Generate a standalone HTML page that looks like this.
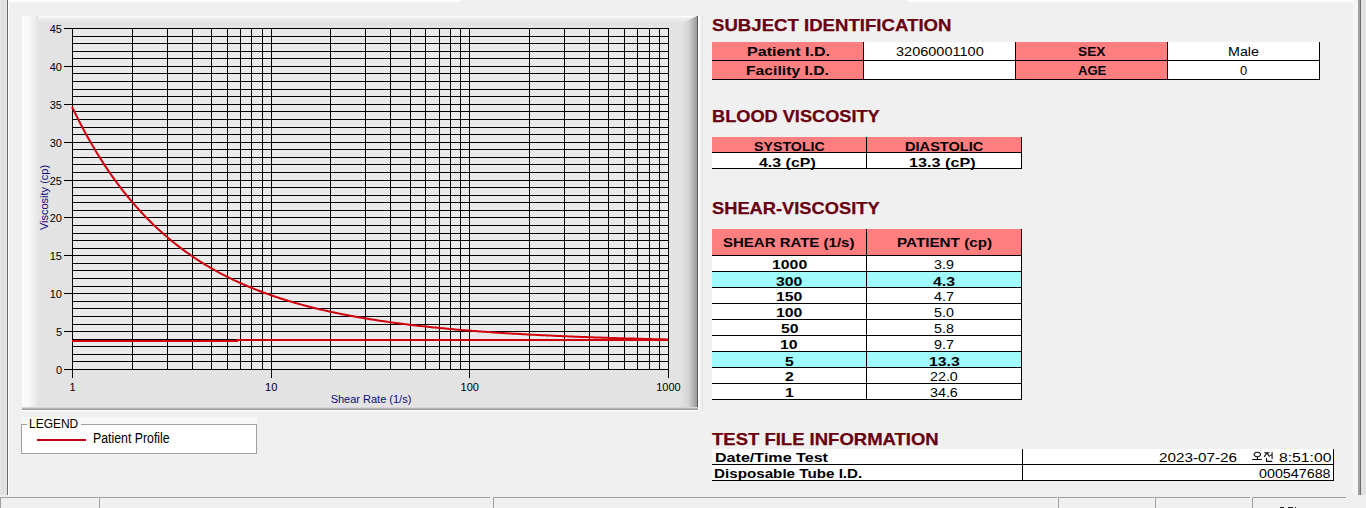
<!DOCTYPE html>
<html><head><meta charset="utf-8"><style>
html,body{margin:0;padding:0;width:1366px;height:508px;overflow:hidden;background:#f0f0f0;font-family:"Liberation Sans",sans-serif;position:relative}
.a{position:absolute;box-sizing:content-box}
.tx{white-space:nowrap;transform-origin:0 0}
.b{}
.h{-webkit-text-stroke:0.25px currentColor}
</style></head><body>
<div class="a" style="left:8px;top:0;width:452px;height:2px;background:#fff"></div>
<div class="a" style="left:908px;top:0;width:450px;height:2px;background:#fff"></div>
<div class="a" style="left:0;top:0;width:7px;height:495px;background:linear-gradient(90deg,#e3e3e3 0,#e6e6e6 1px,#dedede 2px,#dedede 4px,#e2e2e2 4px)"></div>
<div class="a" style="left:7px;top:0;width:1px;height:495px;background:#6a6a6a"></div>
<div class="a" style="left:8px;top:0;width:1px;height:495px;background:#fff"></div>
<div class="a" style="left:1353px;top:0;width:5px;height:495px;background:#f5f5f5"></div>
<div class="a" style="left:1358px;top:0;width:2px;height:495px;background:#a0a0a0"></div>
<div class="a" style="left:1360px;top:0;width:1px;height:495px;background:#6a6a6a"></div>
<div class="a" style="left:1361px;top:0;width:5px;height:495px;background:#e1e1e1"></div>
<div class="a" style="left:702px;top:16px;width:1px;height:395px;background:#e2e2e2"></div>
<div class="a" style="left:0px;top:497px;width:97px;height:11px;border-top:1px solid #a0a0a0;border-left:1px solid #a0a0a0;background:#f0f0f0"></div>
<div class="a" style="left:99px;top:497px;width:390px;height:11px;border-top:1px solid #a0a0a0;border-left:1px solid #a0a0a0;background:#f0f0f0"></div>
<div class="a" style="left:493px;top:497px;width:563px;height:11px;border-top:1px solid #a0a0a0;border-left:1px solid #a0a0a0;background:#f0f0f0"></div>
<div class="a" style="left:1058px;top:497px;width:95px;height:11px;border-top:1px solid #a0a0a0;border-left:1px solid #a0a0a0;background:#f0f0f0"></div>
<div class="a" style="left:1155px;top:497px;width:94px;height:11px;border-top:1px solid #a0a0a0;border-left:1px solid #a0a0a0;background:#f0f0f0"></div>
<div class="a" style="left:1252px;top:497px;width:93px;height:11px;border-top:1px solid #a0a0a0;border-left:1px solid #a0a0a0;background:#f0f0f0"></div>
<div class="a" style="left:1280px;top:507px;width:4px;height:1px;background:#222"></div>
<div class="a" style="left:1288px;top:507px;width:5px;height:1px;background:#222"></div>
<div class="a" style="left:1295px;top:507px;width:1px;height:1px;background:#222"></div>
<div class="a" style="left:21px;top:417px;width:236px;height:7px;background:#f7f7f7"></div>
<div class="a" style="left:21px;top:424px;width:234px;height:28px;border:1px solid #a0a0a0;background:#fff"></div>
<div class="a" style="left:27px;top:424px;width:54px;height:3px;background:#fff"></div>
<div class="a" style="left:37px;top:439px;width:49px;height:2px;background:#c00014"></div>
<svg class="a" style="left:0;top:0" width="1366" height="508"><rect x="22" y="16" width="676" height="394" fill="#e3e3e3"/><defs><linearGradient id="gl" x1="0" x2="1" y1="0" y2="0"><stop offset="0" stop-color="#fdfdfd"/><stop offset="0.4" stop-color="#f9f9f9"/><stop offset="1" stop-color="#e3e3e3"/></linearGradient><linearGradient id="gr" x1="0" x2="1" y1="0" y2="0"><stop offset="0" stop-color="#e3e3e3"/><stop offset="0.5" stop-color="#d4d4d4"/><stop offset="1" stop-color="#999999"/></linearGradient><linearGradient id="gt" x1="0" x2="0" y1="0" y2="1"><stop offset="0" stop-color="#ffffff"/><stop offset="0.3" stop-color="#eeeeee"/><stop offset="1" stop-color="#e3e3e3"/></linearGradient></defs><rect x="22" y="16" width="676" height="7" fill="url(#gt)"/><rect x="22" y="16" width="17" height="392" fill="url(#gl)"/><polygon points="680,24 697,16 697,408 680,408" fill="url(#gr)"/><rect x="697" y="16" width="1" height="394" fill="#5c5c5c"/><rect x="22" y="407" width="676" height="1" fill="#d6d6d6"/><rect x="22" y="408" width="676" height="1" fill="#b4b4b4"/><rect x="22" y="409" width="676" height="1" fill="#999999"/><rect x="22" y="410" width="678" height="1" fill="#ffffff"/><rect x="698" y="16" width="2" height="395" fill="#fbfbfb"/><rect x="72" y="28" width="596" height="341" fill="#eaeaea"/><path d="M72 369.5H669 M72 361.5H669 M72 354.5H669 M72 346.5H669 M72 339.5H669 M72 331.5H669 M72 324.5H669 M72 316.5H669 M72 308.5H669 M72 301.5H669 M72 293.5H669 M72 286.5H669 M72 278.5H669 M72 270.5H669 M72 263.5H669 M72 255.5H669 M72 248.5H669 M72 240.5H669 M72 233.5H669 M72 225.5H669 M72 217.5H669 M72 210.5H669 M72 202.5H669 M72 195.5H669 M72 187.5H669 M72 180.5H669 M72 172.5H669 M72 164.5H669 M72 157.5H669 M72 149.5H669 M72 142.5H669 M72 134.5H669 M72 127.5H669 M72 119.5H669 M72 111.5H669 M72 104.5H669 M72 96.5H669 M72 89.5H669 M72 81.5H669 M72 73.5H669 M72 66.5H669 M72 58.5H669 M72 51.5H669 M72 43.5H669 M72 36.5H669 M72 28.5H669 M72.5 28V370 M132.5 28V370 M167.5 28V370 M192.5 28V370 M211.5 28V370 M227.5 28V370 M240.5 28V370 M251.5 28V370 M262.5 28V370 M271.5 28V370 M330.5 28V370 M365.5 28V370 M390.5 28V370 M410.5 28V370 M425.5 28V370 M439.5 28V370 M450.5 28V370 M460.5 28V370 M469.5 28V370 M529.5 28V370 M564.5 28V370 M589.5 28V370 M608.5 28V370 M624.5 28V370 M637.5 28V370 M649.5 28V370 M659.5 28V370 M668.5 28V370 M64 369.5H72 M64 331.5H72 M64 293.5H72 M64 255.5H72 M64 217.5H72 M64 180.5H72 M64 142.5H72 M64 104.5H72 M64 66.5H72 M64 28.5H72 M72.5 369V378 M271.5 369V378 M469.5 369V378 M668.5 369V378" stroke="#000" stroke-width="1" fill="none" shape-rendering="crispEdges"/><g font-family="Liberation Sans" font-size="11" fill="#000"><text x="62" y="373.5" text-anchor="end">0</text><text x="62" y="335.5" text-anchor="end">5</text><text x="62" y="297.5" text-anchor="end">10</text><text x="62" y="259.5" text-anchor="end">15</text><text x="62" y="221.5" text-anchor="end">20</text><text x="62" y="184.5" text-anchor="end">25</text><text x="62" y="146.5" text-anchor="end">30</text><text x="62" y="108.5" text-anchor="end">35</text><text x="62" y="70.5" text-anchor="end">40</text><text x="62" y="32.5" text-anchor="end">45</text><text x="72.5" y="391" text-anchor="middle">1</text><text x="271.2" y="391" text-anchor="middle">10</text><text x="469.8" y="391" text-anchor="middle">100</text><text x="668.5" y="391" text-anchor="middle">1000</text></g><text x="371" y="402.8" text-anchor="middle" font-family="Liberation Sans" font-size="11" fill="#0c0c7c">Shear Rate (1/s)</text><text transform="translate(48 197.5) rotate(-90)" text-anchor="middle" font-family="Liberation Sans" font-size="11" fill="#0c0c7c">Viscosity (cp)</text><polyline points="72.00,106.82 73.99,110.93 75.97,114.95 77.96,118.89 79.95,122.76 81.93,126.56 83.92,130.28 85.91,133.94 87.89,137.52 89.88,141.03 91.87,144.48 93.85,147.87 95.84,151.18 97.83,154.44 99.81,157.64 101.80,160.77 103.79,163.85 105.77,166.87 107.76,169.83 109.75,172.73 111.73,175.59 113.72,178.38 115.71,181.13 117.69,183.83 119.68,186.47 121.67,189.07 123.65,191.62 125.64,194.12 127.63,196.58 129.61,198.99 131.60,201.35 133.59,203.68 135.57,205.96 137.56,208.19 139.55,210.39 141.53,212.55 143.52,214.67 145.51,216.75 147.49,218.79 149.48,220.80 151.47,222.77 153.45,224.70 155.44,226.60 157.43,228.46 159.41,230.30 161.40,232.09 163.39,233.86 165.37,235.60 167.36,237.30 169.35,238.97 171.33,240.62 173.32,242.23 175.31,243.82 177.29,245.38 179.28,246.91 181.27,248.41 183.25,249.89 185.24,251.34 187.23,252.77 189.21,254.17 191.20,255.55 193.19,256.90 195.17,258.23 197.16,259.54 199.15,260.82 201.13,262.09 203.12,263.33 205.11,264.55 207.09,265.74 209.08,266.92 211.07,268.08 213.05,269.22 215.04,270.34 217.03,271.44 219.01,272.52 221.00,273.58 222.99,274.62 224.97,275.65 226.96,276.66 228.95,277.65 230.93,278.63 232.92,279.59 234.91,280.53 236.89,281.46 238.88,282.37 240.87,283.27 242.85,284.15 244.84,285.02 246.83,285.88 248.81,286.72 250.80,287.54 252.79,288.35 254.77,289.15 256.76,289.94 258.75,290.71 260.73,291.47 262.72,292.22 264.71,292.96 266.69,293.68 268.68,294.39 270.67,295.09 272.65,295.78 274.64,296.46 276.63,297.13 278.61,297.79 280.60,298.43 282.59,299.07 284.57,299.70 286.56,300.31 288.55,300.92 290.53,301.52 292.52,302.10 294.51,302.68 296.49,303.25 298.48,303.81 300.47,304.36 302.45,304.90 304.44,305.44 306.43,305.97 308.41,306.48 310.40,306.99 312.39,307.50 314.37,307.99 316.36,308.48 318.35,308.96 320.33,309.43 322.32,309.89 324.31,310.35 326.29,310.80 328.28,311.24 330.27,311.68 332.25,312.11 334.24,312.53 336.23,312.95 338.21,313.36 340.20,313.77 342.19,314.17 344.17,314.56 346.16,314.94 348.15,315.33 350.13,315.70 352.12,316.07 354.11,316.44 356.09,316.79 358.08,317.15 360.07,317.50 362.05,317.84 364.04,318.18 366.03,318.51 368.01,318.84 370.00,319.16 371.99,319.48 373.97,319.79 375.96,320.10 377.95,320.41 379.93,320.71 381.92,321.01 383.91,321.30 385.89,321.59 387.88,321.87 389.87,322.15 391.85,322.42 393.84,322.70 395.83,322.96 397.81,323.23 399.80,323.49 401.79,323.74 403.77,324.00 405.76,324.25 407.75,324.49 409.73,324.73 411.72,324.97 413.71,325.21 415.69,325.44 417.68,325.67 419.67,325.89 421.65,326.12 423.64,326.33 425.63,326.55 427.61,326.76 429.60,326.97 431.59,327.18 433.57,327.39 435.56,327.59 437.55,327.79 439.53,327.98 441.52,328.18 443.51,328.37 445.49,328.55 447.48,328.74 449.47,328.92 451.45,329.10 453.44,329.28 455.43,329.46 457.41,329.63 459.40,329.80 461.39,329.97 463.37,330.14 465.36,330.30 467.35,330.46 469.33,330.62 471.32,330.78 473.31,330.93 475.29,331.09 477.28,331.24 479.27,331.39 481.25,331.53 483.24,331.68 485.23,331.82 487.21,331.96 489.20,332.10 491.19,332.24 493.17,332.38 495.16,332.51 497.15,332.64 499.13,332.77 501.12,332.90 503.11,333.03 505.09,333.15 507.08,333.28 509.07,333.40 511.05,333.52 513.04,333.64 515.03,333.76 517.01,333.87 519.00,333.99 520.99,334.10 522.97,334.21 524.96,334.32 526.95,334.43 528.93,334.53 530.92,334.64 532.91,334.74 534.89,334.85 536.88,334.95 538.87,335.05 540.85,335.15 542.84,335.25 544.83,335.34 546.81,335.44 548.80,335.53 550.79,335.62 552.77,335.72 554.76,335.81 556.75,335.90 558.73,335.98 560.72,336.07 562.71,336.16 564.69,336.24 566.68,336.32 568.67,336.41 570.65,336.49 572.64,336.57 574.63,336.65 576.61,336.73 578.60,336.81 580.59,336.88 582.57,336.96 584.56,337.03 586.55,337.11 588.53,337.18 590.52,337.25 592.51,337.32 594.49,337.39 596.48,337.46 598.47,337.53 600.45,337.60 602.44,337.66 604.43,337.73 606.41,337.79 608.40,337.86 610.39,337.92 612.37,337.98 614.36,338.05 616.35,338.11 618.33,338.17 620.32,338.23 622.31,338.28 624.29,338.34 626.28,338.40 628.27,338.46 630.25,338.51 632.24,338.57 634.23,338.62 636.21,338.68 638.20,338.73 640.19,338.78 642.17,338.83 644.16,338.89 646.15,338.94 648.13,338.99 650.12,339.04 652.11,339.08 654.09,339.13 656.08,339.18 658.07,339.23 660.05,339.27 662.04,339.32 664.03,339.36 666.01,339.41 668.00,339.45" fill="none" stroke="#d0000c" stroke-width="2"/><path d="M72 341H237V340H668" fill="none" stroke="#d0000c" stroke-width="2"/></svg>
<div class="a" style="left:712px;top:42px;width:151px;height:18px;background:#ff7e80;border-right:1px solid #000;border-bottom:1px solid #000;"></div>
<div class="a" style="left:864px;top:42px;width:151px;height:18px;background:#fff;border-right:1px solid #000;border-bottom:1px solid #000;"></div>
<div class="a" style="left:1016px;top:42px;width:151px;height:18px;background:#ff7e80;border-right:1px solid #000;border-bottom:1px solid #000;"></div>
<div class="a" style="left:1168px;top:42px;width:151px;height:18px;background:#fff;border-right:1px solid #000;border-bottom:1px solid #000;"></div>
<div class="a" style="left:712px;top:61px;width:151px;height:18px;background:#ff7e80;border-right:1px solid #000;border-bottom:1px solid #000;"></div>
<div class="a" style="left:864px;top:61px;width:151px;height:18px;background:#fff;border-right:1px solid #000;border-bottom:1px solid #000;"></div>
<div class="a" style="left:1016px;top:61px;width:151px;height:18px;background:#ff7e80;border-right:1px solid #000;border-bottom:1px solid #000;"></div>
<div class="a" style="left:1168px;top:61px;width:151px;height:18px;background:#fff;border-right:1px solid #000;border-bottom:1px solid #000;"></div>
<div class="a" style="left:712px;top:137px;width:154px;height:15px;background:#ff7e80;border-right:1px solid #000;border-bottom:1px solid #000;"></div>
<div class="a" style="left:867px;top:137px;width:154px;height:15px;background:#ff7e80;border-right:1px solid #000;border-bottom:1px solid #000;"></div>
<div class="a" style="left:712px;top:153px;width:154px;height:15px;background:#fff;border-right:1px solid #000;border-bottom:1px solid #000;"></div>
<div class="a" style="left:867px;top:153px;width:154px;height:15px;background:#fff;border-right:1px solid #000;border-bottom:1px solid #000;"></div>
<div class="a" style="left:712px;top:229px;width:154px;height:26px;background:#ff7e80;border-right:1px solid #000;border-bottom:1px solid #000;"></div>
<div class="a" style="left:867px;top:229px;width:154px;height:26px;background:#ff7e80;border-right:1px solid #000;border-bottom:1px solid #000;"></div>
<div class="a" style="left:712px;top:256px;width:154px;height:15px;background:#fff;border-right:1px solid #000;border-bottom:1px solid #000;"></div>
<div class="a" style="left:867px;top:256px;width:154px;height:15px;background:#fff;border-right:1px solid #000;border-bottom:1px solid #000;"></div>
<div class="a" style="left:712px;top:272px;width:154px;height:15px;background:#9ffcfa;border-right:1px solid #000;border-bottom:1px solid #000;"></div>
<div class="a" style="left:867px;top:272px;width:154px;height:15px;background:#9ffcfa;border-right:1px solid #000;border-bottom:1px solid #000;"></div>
<div class="a" style="left:712px;top:288px;width:154px;height:15px;background:#fff;border-right:1px solid #000;border-bottom:1px solid #000;"></div>
<div class="a" style="left:867px;top:288px;width:154px;height:15px;background:#fff;border-right:1px solid #000;border-bottom:1px solid #000;"></div>
<div class="a" style="left:712px;top:304px;width:154px;height:15px;background:#fff;border-right:1px solid #000;border-bottom:1px solid #000;"></div>
<div class="a" style="left:867px;top:304px;width:154px;height:15px;background:#fff;border-right:1px solid #000;border-bottom:1px solid #000;"></div>
<div class="a" style="left:712px;top:320px;width:154px;height:15px;background:#fff;border-right:1px solid #000;border-bottom:1px solid #000;"></div>
<div class="a" style="left:867px;top:320px;width:154px;height:15px;background:#fff;border-right:1px solid #000;border-bottom:1px solid #000;"></div>
<div class="a" style="left:712px;top:336px;width:154px;height:15px;background:#fff;border-right:1px solid #000;border-bottom:1px solid #000;"></div>
<div class="a" style="left:867px;top:336px;width:154px;height:15px;background:#fff;border-right:1px solid #000;border-bottom:1px solid #000;"></div>
<div class="a" style="left:712px;top:352px;width:154px;height:15px;background:#9ffcfa;border-right:1px solid #000;border-bottom:1px solid #000;"></div>
<div class="a" style="left:867px;top:352px;width:154px;height:15px;background:#9ffcfa;border-right:1px solid #000;border-bottom:1px solid #000;"></div>
<div class="a" style="left:712px;top:368px;width:154px;height:15px;background:#fff;border-right:1px solid #000;border-bottom:1px solid #000;"></div>
<div class="a" style="left:867px;top:368px;width:154px;height:15px;background:#fff;border-right:1px solid #000;border-bottom:1px solid #000;"></div>
<div class="a" style="left:712px;top:384px;width:154px;height:15px;background:#fff;border-right:1px solid #000;border-bottom:1px solid #000;"></div>
<div class="a" style="left:867px;top:384px;width:154px;height:15px;background:#fff;border-right:1px solid #000;border-bottom:1px solid #000;"></div>
<div class="a" style="left:712px;top:449px;width:310px;height:15px;background:#fff;border-right:1px solid #000;border-bottom:1px solid #000;"></div>
<div class="a" style="left:1023px;top:449px;width:310px;height:15px;background:#fff;border-right:1px solid #000;border-bottom:1px solid #000;"></div>
<div class="a" style="left:712px;top:465px;width:310px;height:15px;background:#fff;border-right:1px solid #000;border-bottom:1px solid #000;"></div>
<div class="a" style="left:1023px;top:465px;width:310px;height:15px;background:#fff;border-right:1px solid #000;border-bottom:1px solid #000;"></div>
<span class="a tx h" style="left:711.86px;top:17.38px;font:bold 17.39px/17.39px 'Liberation Sans';color:#680010;transform:scaleX(1.0708)">SUBJECT IDENTIFICATION</span>
<span class="a tx h" style="left:712.03px;top:108.42px;font:bold 17.10px/17.10px 'Liberation Sans';color:#680010;transform:scaleX(1.0639)">BLOOD VISCOSITY</span>
<span class="a tx h" style="left:712.17px;top:201.25px;font:bold 16.96px/16.96px 'Liberation Sans';color:#680010;transform:scaleX(1.0792)">SHEAR-VISCOSITY</span>
<span class="a tx h" style="left:712.29px;top:431.38px;font:bold 17.39px/17.39px 'Liberation Sans';color:#680010;transform:scaleX(1.0645)">TEST FILE INFORMATION</span>
<span class="a tx" style="left:746.57px;top:46.25px;font:bold 12.46px/12.46px 'Liberation Sans';color:#000;transform:scaleX(1.2890)">Patient I.D.</span>
<span class="a tx" style="left:746.09px;top:65.25px;font:bold 12.46px/12.46px 'Liberation Sans';color:#000;transform:scaleX(1.2611)">Facility I.D.</span>
<span class="a tx" style="left:896.22px;top:46.39px;font:12.17px/12.17px 'Liberation Sans';color:#000;transform:scaleX(1.1941)">32060001100</span>
<span class="a tx" style="left:1078.07px;top:46.25px;font:bold 12.46px/12.46px 'Liberation Sans';color:#000;transform:scaleX(1.1005)">SEX</span>
<span class="a tx" style="left:1077.59px;top:65.25px;font:bold 12.46px/12.46px 'Liberation Sans';color:#000;transform:scaleX(1.0497)">AGE</span>
<span class="a tx" style="left:1227.85px;top:46.25px;font:12.46px/12.46px 'Liberation Sans';color:#000;transform:scaleX(1.1459)">Male</span>
<span class="a tx" style="left:1240.28px;top:65.37px;font:12.32px/12.32px 'Liberation Sans';color:#000;transform:scaleX(1.0500)">0</span>
<span class="a tx" style="left:754.04px;top:141.64px;font:bold 11.88px/11.88px 'Liberation Sans';color:#000;transform:scaleX(1.1958)">SYSTOLIC</span>
<span class="a tx" style="left:905.14px;top:141.64px;font:bold 11.88px/11.88px 'Liberation Sans';color:#000;transform:scaleX(1.2286)">DIASTOLIC</span>
<span class="a tx" style="left:758.57px;top:157.29px;font:bold 12.17px/12.17px 'Liberation Sans';color:#000;transform:scaleX(1.3109)">4.3 (cP)</span>
<span class="a tx" style="left:909.07px;top:157.29px;font:bold 12.17px/12.17px 'Liberation Sans';color:#000;transform:scaleX(1.3316)">13.3 (cP)</span>
<span class="a tx" style="left:723.43px;top:237.49px;font:bold 12.17px/12.17px 'Liberation Sans';color:#000;transform:scaleX(1.2337)">SHEAR RATE (1/s)</span>
<span class="a tx" style="left:896.60px;top:237.49px;font:bold 12.17px/12.17px 'Liberation Sans';color:#000;transform:scaleX(1.2533)">PATIENT (cp)</span>
<span class="a tx" style="left:714.65px;top:452.54px;font:bold 11.88px/11.88px 'Liberation Sans';color:#000;transform:scaleX(1.3548)">Date/Time Test</span>
<span class="a tx" style="left:714.40px;top:468.19px;font:bold 12.17px/12.17px 'Liberation Sans';color:#000;transform:scaleX(1.2497)">Disposable Tube I.D.</span>
<span class="a tx" style="left:1158.95px;top:452.49px;font:12.17px/12.17px 'Liberation Sans';color:#000;transform:scaleX(1.2551)">2023-07-26</span>
<span class="a tx" style="left:1278.65px;top:452.49px;font:12.17px/12.17px 'Liberation Sans';color:#000;transform:scaleX(1.2916)">8:51:00</span>
<span class="a tx" style="left:1259.43px;top:468.49px;font:12.17px/12.17px 'Liberation Sans';color:#000;transform:scaleX(1.1756)">000547688</span>
<span class="a tx" style="left:29.32px;top:417.39px;font:13.48px/13.48px 'Liberation Sans';color:#000;transform:scaleX(0.8885)">LEGEND</span>
<span class="a tx" style="left:92.86px;top:430.75px;font:14.35px/14.35px 'Liberation Sans';color:#000;transform:scaleX(0.8581)">Patient Profile</span>
<span class="a tx b" style="left:771.64px;top:259.49px;font:bold 12.17px/12.17px 'Liberation Sans';color:#000;transform:scaleX(1.3007)">1000</span>
<span class="a tx" style="left:934.35px;top:259.49px;font:12.17px/12.17px 'Liberation Sans';color:#000;transform:scaleX(1.1759)">3.9</span>
<span class="a tx b" style="left:776.37px;top:276.19px;font:bold 12.17px/12.17px 'Liberation Sans';color:#000;transform:scaleX(1.3007)">300</span>
<span class="a tx b" style="left:933.37px;top:276.19px;font:bold 12.17px/12.17px 'Liberation Sans';color:#000;transform:scaleX(1.3007)">4.3</span>
<span class="a tx b" style="left:776.04px;top:291.49px;font:bold 12.17px/12.17px 'Liberation Sans';color:#000;transform:scaleX(1.3007)">150</span>
<span class="a tx" style="left:934.47px;top:291.49px;font:12.17px/12.17px 'Liberation Sans';color:#000;transform:scaleX(1.1759)">4.7</span>
<span class="a tx b" style="left:776.04px;top:307.49px;font:bold 12.17px/12.17px 'Liberation Sans';color:#000;transform:scaleX(1.3007)">100</span>
<span class="a tx" style="left:934.29px;top:307.49px;font:12.17px/12.17px 'Liberation Sans';color:#000;transform:scaleX(1.1759)">5.0</span>
<span class="a tx b" style="left:780.70px;top:323.49px;font:bold 12.17px/12.17px 'Liberation Sans';color:#000;transform:scaleX(1.3007)">50</span>
<span class="a tx" style="left:934.29px;top:323.49px;font:12.17px/12.17px 'Liberation Sans';color:#000;transform:scaleX(1.1759)">5.8</span>
<span class="a tx b" style="left:780.44px;top:339.49px;font:bold 12.17px/12.17px 'Liberation Sans';color:#000;transform:scaleX(1.3007)">10</span>
<span class="a tx" style="left:934.29px;top:339.49px;font:12.17px/12.17px 'Liberation Sans';color:#000;transform:scaleX(1.1759)">9.7</span>
<span class="a tx b" style="left:784.98px;top:356.19px;font:bold 12.17px/12.17px 'Liberation Sans';color:#000;transform:scaleX(1.3007)">5</span>
<span class="a tx b" style="left:928.58px;top:356.19px;font:bold 12.17px/12.17px 'Liberation Sans';color:#000;transform:scaleX(1.3007)">13.3</span>
<span class="a tx b" style="left:785.04px;top:371.49px;font:bold 12.17px/12.17px 'Liberation Sans';color:#000;transform:scaleX(1.3007)">2</span>
<span class="a tx" style="left:930.19px;top:371.49px;font:12.17px/12.17px 'Liberation Sans';color:#000;transform:scaleX(1.1759)">22.0</span>
<span class="a tx b" style="left:784.72px;top:387.49px;font:bold 12.17px/12.17px 'Liberation Sans';color:#000;transform:scaleX(1.3007)">1</span>
<span class="a tx" style="left:930.31px;top:387.49px;font:12.17px/12.17px 'Liberation Sans';color:#000;transform:scaleX(1.1759)">34.6</span>
<svg class="a" style="left:0;top:0" width="1366" height="508"><path d="M1257.3 452.3a3.2 2.2 0 1 0 0.01 0Z M1257.3 456.7V459.2 M1252.1 459.5H1261.9 M1264.3 452.7H1269.5 M1266.9 452.9L1264.2 456.9 M1266.9 452.9L1269.6 456.6 M1272.1 452.2V458.9 M1269.9 455.3H1272.1 M1266.5 458.1V461.4H1272.3" fill="none" stroke="#111" stroke-width="1.1"/></svg>
</body></html>
